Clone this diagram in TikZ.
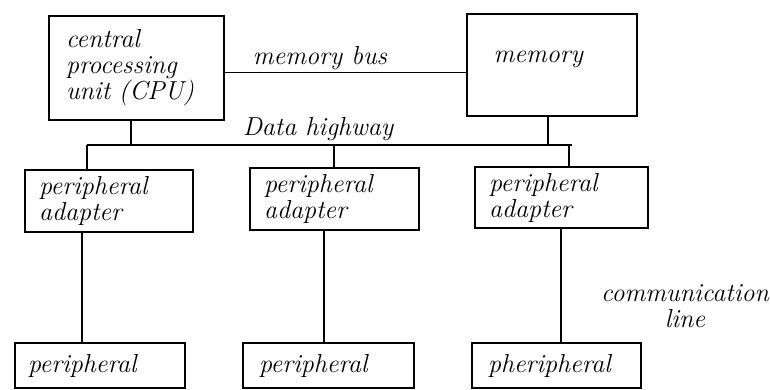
\documentclass[tikz,border=0pt]{standalone}
\usepackage{fontspec}
\begin{document}
\begin{tikzpicture}[x=1pt,y=-1pt,
  hand/.style={font=\fontsize{26}{26}\selectfont\itshape},
  unit/.style={draw, line width=1.6pt, hand, align=left, inner ysep=0pt},
  wire/.style={line width=1.6pt},
  thinwire/.style={line width=1pt}]
\useasboundingbox (0,0) rectangle (770,389);

% processor and memory
\node[unit, text width=141pt, inner xsep=17pt, minimum height=104pt] (cpu) at (136.5,68)
  {central\\processing\\unit (CPU)};
\node[draw, line width=1.6pt, minimum width=170pt, minimum height=102pt] (mem) at (552,65) {};
\node[hand, anchor=base west] (memtxt) at (490,62) {memory};

% adapters
\node[unit, text width=140pt, inner xsep=14pt, minimum height=62pt] (adL) at (109,201) {peripheral\\adapter};
\node[unit, text width=141pt, inner xsep=14pt, minimum height=62pt] (adM) at (334.5,199) {peripheral\\adapter};
\node[unit, text width=145pt, inner xsep=14pt, minimum height=61pt] (adR) at (561.5,197.5) {peripheral\\adapter};

% peripherals
\node[unit, text width=144pt, inner xsep=13pt, minimum height=45pt] (pL) at (100,365.5) {peripheral};
\node[unit, text width=139pt, inner xsep=16pt, minimum height=45pt] (pM) at (328.5,365.5) {peripheral};
\node[unit, text width=137pt, inner xsep=16pt, minimum height=45pt] (pR) at (556.5,365.5) {pheripheral};

% memory bus
\draw[thinwire] ([yshift=-4pt]cpu.east) -- ([yshift=-4pt]cpu.east -| mem.west);
\node[hand] (busname) at (320,58) {memory bus};

% data highway
\coordinate (busL) at (87,145);
\coordinate (busR) at (572,145);
\draw[wire] (busL) -- (busR);
\node[hand] (hwy) at (318,129) {Data highway};
\draw[wire] ([xshift=-5.5pt]cpu.south) -- ([xshift=-5.5pt]cpu.south |- busL);
\draw[wire] ([xshift=-4pt]mem.south) -- ([xshift=-4pt]mem.south |- busL);
\draw[wire] (busL) -- (busL |- adL.north);
\draw[wire] ([xshift=-0.5pt]adM.north) -- ([xshift=-0.5pt]adM.north |- busL);
\draw[wire] ([xshift=7.5pt]adR.north) -- ([xshift=7.5pt]adR.north |- busL);

% communication lines
\draw[wire] ([xshift=-27pt]adL.south) -- ([xshift=-27pt]adL.south |- pL.north);
\draw[wire] ([xshift=-10.5pt]adM.south) -- ([xshift=-10.5pt]adM.south |- pM.north);
\draw[wire] ([xshift=-0.5pt]adR.south) -- ([xshift=-0.5pt]adR.south |- pR.north);
\node[hand, align=center] (comm) at (685,306) {communication\\line};
\end{tikzpicture}
\end{document}
